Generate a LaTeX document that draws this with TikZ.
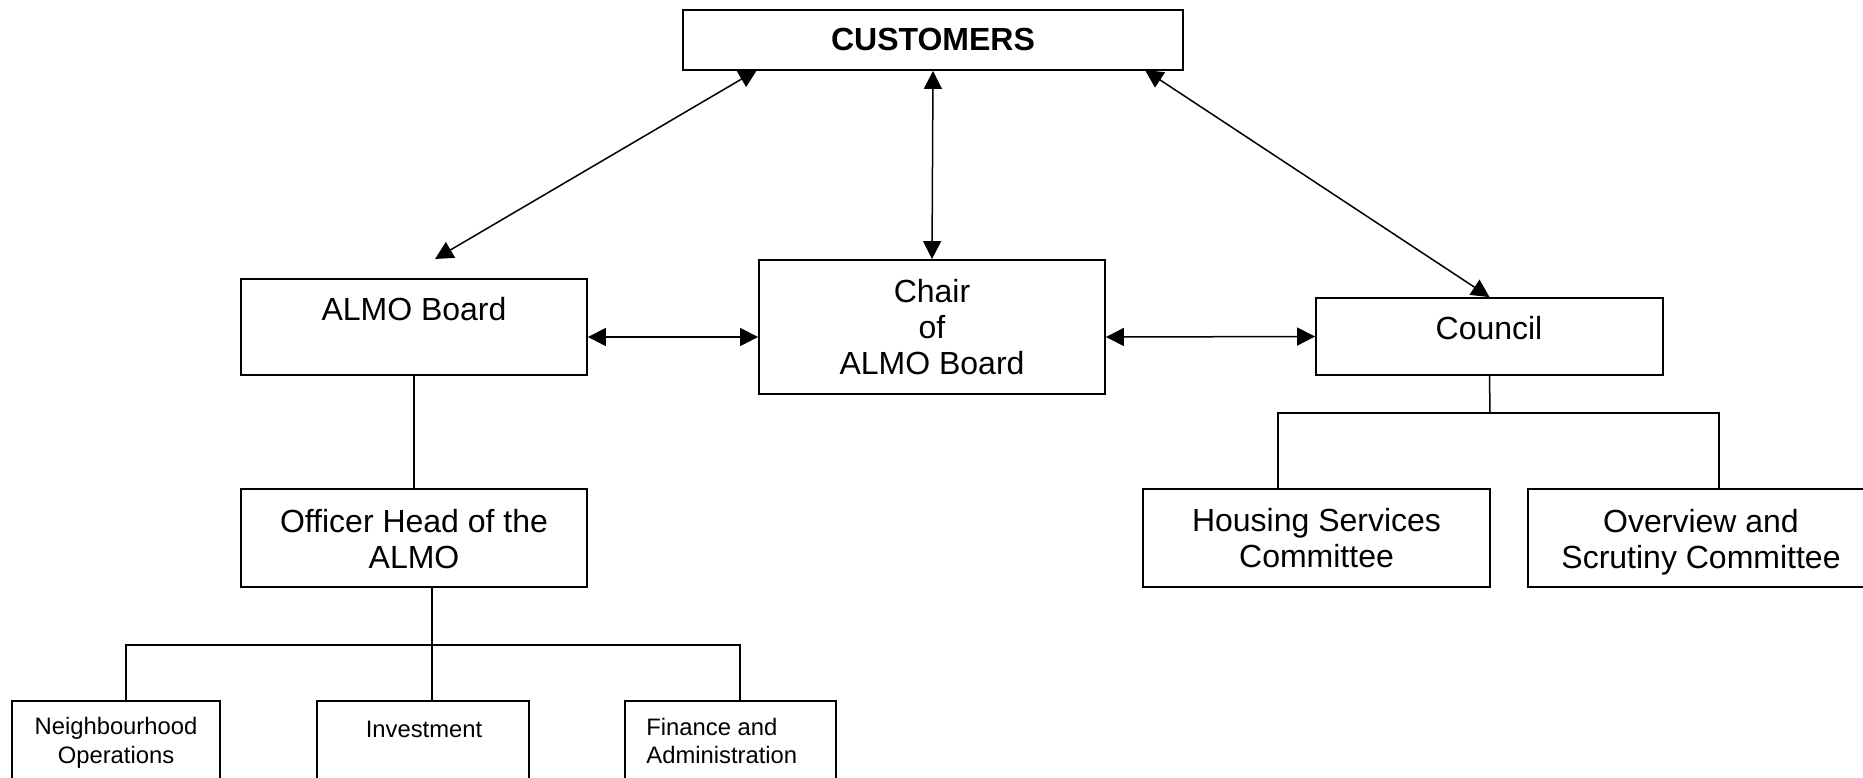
\documentclass[tikz,border=0pt]{standalone}
\usepackage{fontspec}
\setmainfont{Liberation Sans}
\usetikzlibrary{arrows.meta}
\begin{document}
\begin{tikzpicture}[x=0.5pt,y=-0.5pt,
  box/.style={draw,line width=0.9pt,inner sep=0pt,rectangle},
  lbl/.style={inner sep=0pt,align=center,font=\fontsize{16}{18.2}\selectfont},
  slbl/.style={inner sep=0pt,align=center,font=\fontsize{11.9}{14.3}\selectfont},
  link/.style={line width=0.75pt},
  biarrow/.style={line width=0.75pt,{Triangle[length=9pt,width=9pt]}-{Triangle[length=9pt,width=9pt]}}]
\useasboundingbox (0,0) rectangle (1863,777);
\begin{scope}
\clip (0,0) rectangle (1863,777);
% boxes
\node[box,minimum width=250pt,minimum height=30pt] (cust) at (933,40) {};
\node[box,minimum width=173pt,minimum height=48pt] (almo) at (414,327) {};
\node[box,minimum width=173pt,minimum height=67pt] (chair) at (932,327) {};
\node[box,minimum width=173.5pt,minimum height=38.5pt] (council) at (1489.5,336.5) {};
\node[box,minimum width=173pt,minimum height=49pt] (officer) at (414,538) {};
\node[box,minimum width=173.5pt,minimum height=49pt] (housing) at (1316.5,538) {};
\node[box,minimum width=173.5pt,minimum height=49pt] (overview) at (1701.5,538) {};
\node[box,minimum width=104pt,minimum height=50pt] (neigh) at (116,751) {};
\node[box,minimum width=106pt,minimum height=50pt] (invest) at (423,751) {};
\node[box,minimum width=105.5pt,minimum height=50pt] (finance) at (730.5,751) {};
% labels
\node[lbl,font=\fontsize{16}{18.2}\selectfont\bfseries] (custL) at (933,39) {CUSTOMERS};
\node[lbl] (almoL) at (414,309) {ALMO Board};
\node[lbl] (chairL) at (932,327) {Chair\\of\\ALMO Board};
\node[lbl] (councilL) at (1489,328) {Council};
\node[lbl] (officerL) at (414,539) {Officer Head of the\\ALMO};
\node[lbl] (housingL) at (1316.5,538) {Housing Services\\Committee};
\node[lbl] (overviewL) at (1701,542) {Overview and\\Scrutiny Committee};
\node[slbl] (neighL) at (116,743) {Neighbourhood\\Operations};
\node[slbl] (investL) at (424,729) {Investment};
\node[slbl,align=left,anchor=west] (financeL) at (646,741) {Finance and\\Administration};
% arrows
\coordinate (c1) at (757,70);
\coordinate (a1) at (435,259);
\coordinate (c3) at (1145,70);
\draw[biarrow] (c1) -- (a1);
\draw[biarrow] (cust.south) -- (chair.north);
\draw[biarrow] (c3) -- (council.north);
\draw[biarrow] ([yshift=-5pt]almo.east) -- ([yshift=-5pt]chair.west);
\draw[biarrow] ([yshift=-5pt]chair.east) -- (council.west);
% tree under ALMO
\draw[link] (almo.south) -- (officer.north);
\coordinate (ob) at (432,645);
\draw[link] (officer.south -| ob) -- (ob);
\draw[link] (neigh.north -| 126,0) |- (ob) -| (finance.north -| 740,0);
\draw[link] (ob) -- (invest.north -| ob);
% tree under Council
\coordinate (cb) at (1490,413);
\draw[link] (council.south) -- (cb);
\draw[link] (housing.north -| 1278,0) |- (cb) -| (overview.north -| 1719,0);
\end{scope}
\end{tikzpicture}
\end{document}
